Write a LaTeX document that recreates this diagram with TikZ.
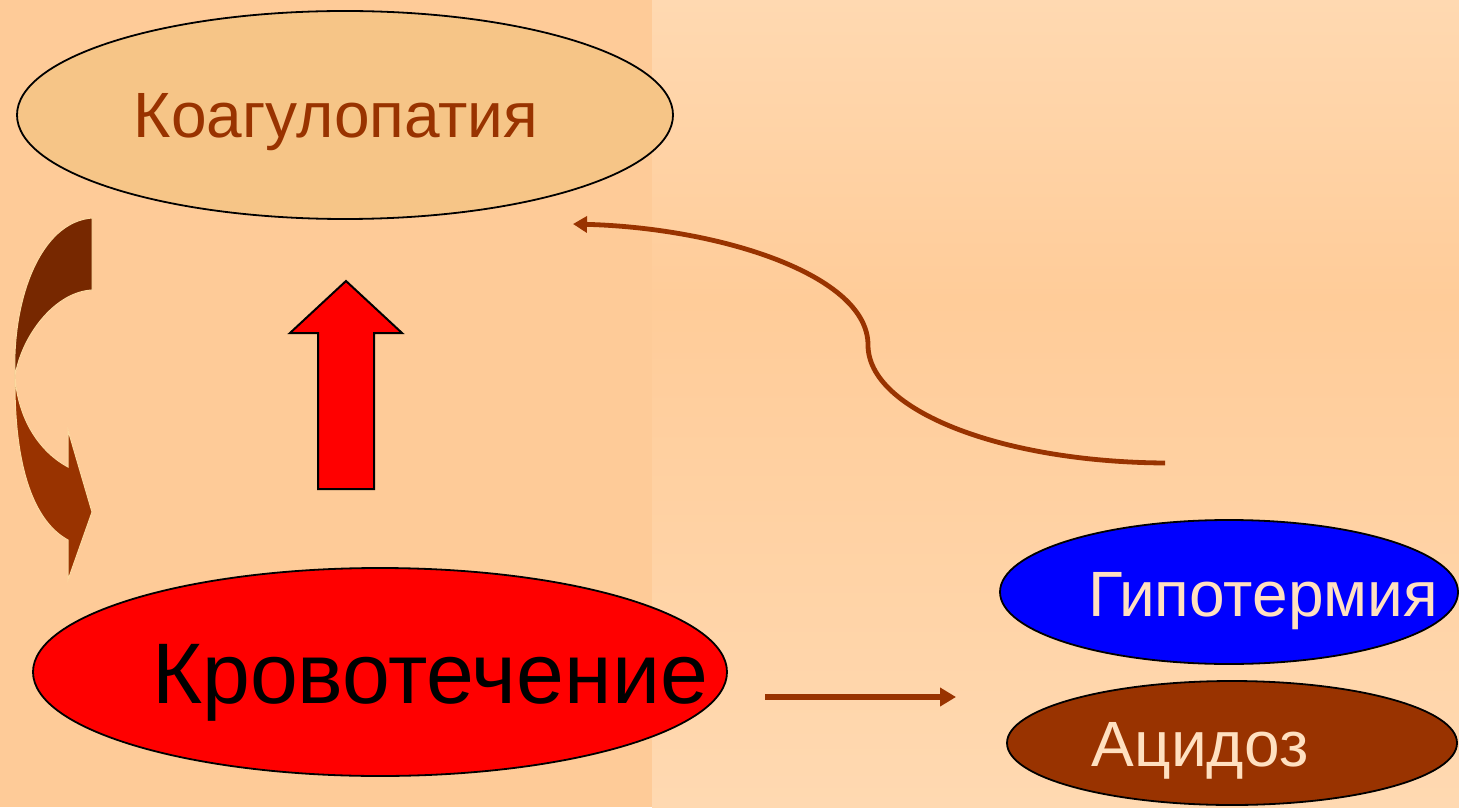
\documentclass[tikz,border=0pt]{standalone}
\usepackage{fontspec}
\setmainfont{Liberation Sans}
\usetikzlibrary{shapes.geometric,arrows.meta}
\definecolor{bgleft}{HTML}{FECB98}
\definecolor{bgtop}{HTML}{FFD9B1}
\definecolor{bgmid}{HTML}{FFCC99}
\definecolor{koag}{HTML}{F6C587}
\definecolor{brown}{HTML}{993300}
\definecolor{darkbrown}{HTML}{772800}
\definecolor{lighttxt}{HTML}{FFE0C0}
\definecolor{rim}{HTML}{FCD9A0}
\begin{document}
\begin{tikzpicture}[x=0.5pt,y=-0.5pt,
  oval/.style={ellipse,draw=black,line width=0.9pt,inner sep=0pt},
  lbl/.style={inner sep=0pt,font=\fontsize{32}{36}\selectfont},
  conn/.style={draw=brown,line width=2.4pt,-{Triangle[length=7pt,width=8pt]}},
  blockarrow/.style={fill=red,draw=black,line width=1pt}]
\useasboundingbox (0,0) rectangle (1459,807);
% background
\fill[bgleft] (0,0) rectangle (652,807);
\shade[top color=bgtop,bottom color=bgmid] (652,0) rectangle (1459,300);
\shade[top color=bgmid,bottom color=bgtop] (652,300) rectangle (1459,807);
% ellipses
\node[oval,fill=koag,minimum width=328pt,minimum height=104pt] (koag) at (345,115) {};
\node[oval,fill=red,minimum width=347pt,minimum height=104pt] (krov) at (380,672) {};
\node[oval,fill=blue,minimum width=229pt,minimum height=72pt] (gipo) at (1229,592) {};
\node[oval,fill=brown,minimum width=225pt,minimum height=62pt] (acid) at (1232,743) {};
% texts
\node[lbl,text=brown] (koagt) at (336,122) {Коагулопатия};
\node[lbl,text=black,font=\fontsize{43}{48}\selectfont] (krovt) at (430,683) {Кровотечение};
\node[lbl,text=lighttxt] (gipot) at (1263,601) {Гипотермия};
\node[lbl,text=lighttxt] (acidt) at (1200,751) {Ацидоз};
% red block arrow
\filldraw[blockarrow] (318,489) -- (318,333) -- (290,333) -- (346,281) -- (402,333) -- (374,333) -- (374,489) -- cycle;
% curved connector
\coordinate (cs) at (1165,463);
\coordinate (ce) at (573,224);
\draw[conn] (cs) .. controls (1000,462) and (868,410) .. (868,345)
  .. controls (868,275) and (720,228) .. (ce);
% straight connector
\coordinate (as) at (765,697);
\coordinate (ae) at (956,697);
\draw[draw=brown,line width=2.8pt,-{Triangle[length=8pt,width=9pt]}] (as) -- (ae);
% left curved block arrow
\filldraw[fill=darkbrown,draw=rim,line width=0.5pt]
  (92,218) -- (92,290) .. controls (55,292) and (22,335) .. (15,376)
  .. controls (12,300) and (40,222) .. (92,218) -- cycle;
\filldraw[fill=brown,draw=rim,line width=0.5pt]
  (15,376) .. controls (18,420) and (40,452) .. (68,467) -- (68,430) -- (92,512)
  -- (68,580) -- (68,540) .. controls (35,522) and (14,470) .. (15,376) -- cycle;
\end{tikzpicture}
\end{document}
